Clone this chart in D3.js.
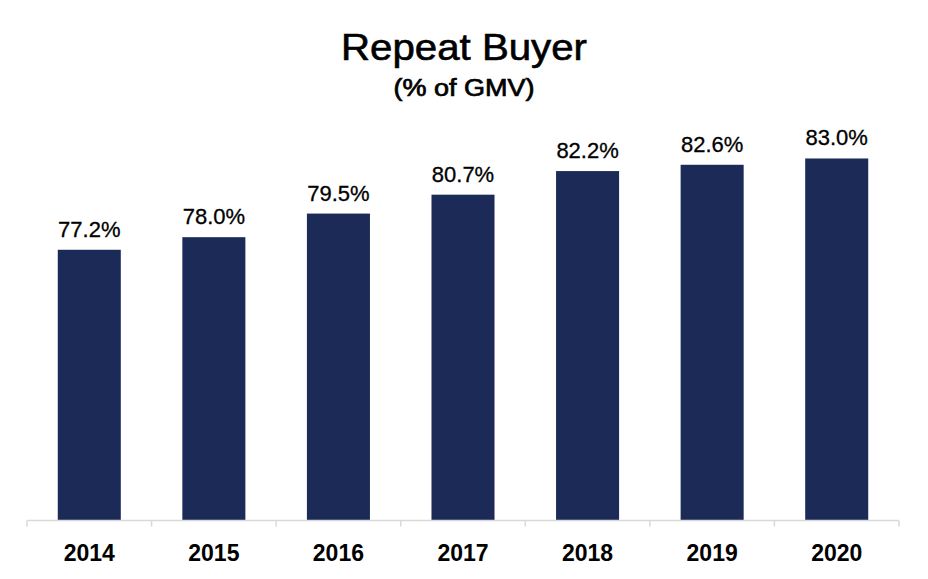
<!DOCTYPE html>
<html>
<head>
<meta charset="utf-8">
<script src="https://cdn.jsdelivr.net/npm/d3@7"></script>
<style>
  html, body { margin: 0; padding: 0; background: #fff; }
  text { font-family: "Liberation Sans", Arial, sans-serif; }
</style>
</head>
<body>
<div id="chart"></div>
<script>
// Chart data
const years = ["2014", "2015", "2016", "2017", "2018", "2019", "2020"];
const repeatShare = [77.2, 78.0, 79.5, 80.7, 82.2, 82.6, 83.0];

const width = 928;
const height = 579;
const margin = { left: 27, right: 29, baseline: 520.5 };

const svg = d3.select("#chart")
    .append("svg")
    .attr("width", width)
    .attr("height", height);

// Band scale for years, linear scale for share (axis starts at 60%)
const x = d3.scaleBand()
    .domain(years)
    .range([margin.left, width - margin.right])
    .paddingInner(0.494)
    .paddingOuter(0.247);

const y = d3.scaleLinear()
    .domain([60, 85])
    .range([margin.baseline, margin.baseline - 25 * 15.74]);

// Title (stretched a little to match the source's wide lettering)
svg.append("text")
    .attr("x", 464)
    .attr("y", 59.5)
    .attr("text-anchor", "middle")
    .attr("font-size", 36)
    .attr("stroke", "#000")
    .attr("stroke-width", 0.6)
    .attr("textLength", 246)
    .attr("lengthAdjust", "spacingAndGlyphs")
    .text("Repeat Buyer");

svg.append("text")
    .attr("x", 464)
    .attr("y", 96)
    .attr("text-anchor", "middle")
    .attr("font-size", 23)
    .attr("stroke", "#000")
    .attr("stroke-width", 0.7)
    .attr("textLength", 141)
    .attr("lengthAdjust", "spacingAndGlyphs")
    .text("(% of GMV)");

// Bars
svg.append("g")
    .selectAll("rect")
    .data(years)
    .join("rect")
    .attr("x", d => x(d))
    .attr("y", (d, i) => y(repeatShare[i]))
    .attr("width", x.bandwidth())
    .attr("height", (d, i) => y(60) - y(repeatShare[i]))
    .attr("fill", "#1c2a58");

// Value labels
svg.append("g")
    .selectAll("text")
    .data(years)
    .join("text")
    .attr("x", d => x(d) + x.bandwidth() / 2)
    .attr("y", (d, i) => y(repeatShare[i]) - 13)
    .attr("text-anchor", "middle")
    .attr("font-size", 22)
    .attr("stroke", "#000")
    .attr("stroke-width", 0.3)
    .text((d, i) => repeatShare[i].toFixed(1) + "%");

// Category axis with ticks between bars
const axis = svg.append("g")
    .attr("transform", `translate(0,${margin.baseline})`);

axis.append("line")
    .attr("x1", margin.left)
    .attr("x2", width - margin.right)
    .attr("stroke", "#d9d9d9")
    .attr("stroke-width", 1.5);

const step = x.step();
const tickPos = d3.range(years.length + 1).map(i => margin.left + i * step);

axis.selectAll(".tick")
    .data(tickPos)
    .join("line")
    .attr("class", "tick")
    .attr("x1", d => d)
    .attr("x2", d => d)
    .attr("y1", 0)
    .attr("y2", 6)
    .attr("stroke", "#d9d9d9")
    .attr("stroke-width", 1.5);

axis.selectAll(".label")
    .data(years)
    .join("text")
    .attr("class", "label")
    .attr("x", d => x(d) + x.bandwidth() / 2)
    .attr("y", 40)
    .attr("text-anchor", "middle")
    .attr("font-size", 23)
    .attr("font-weight", "bold")
    .text(d => d);
</script>
</body>
</html>
